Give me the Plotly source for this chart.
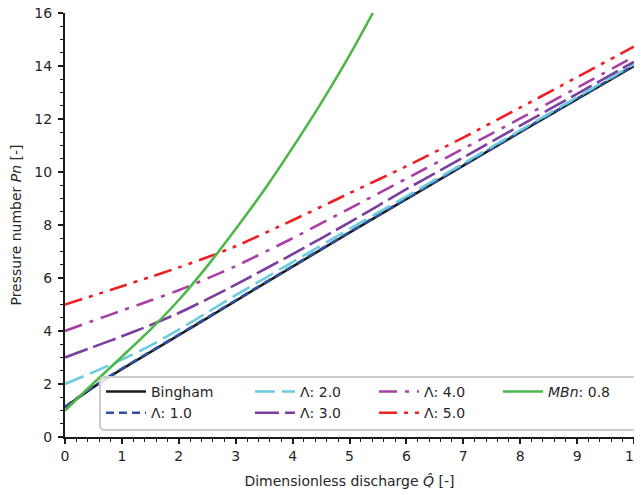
import plotly.graph_objects as go

# ---- data ----
q = [0, 0.5, 1, 1.5, 2, 2.5, 3, 4, 5, 6, 7, 8, 9, 10]
pn_bingham = [1.12, 1.88, 2.56, 3.2, 3.84, 4.49, 5.14, 6.43, 7.71, 8.98, 10.24, 11.5, 12.75, 14.0]
pn_lam1 = [1.14, 1.9, 2.58, 3.22, 3.86, 4.51, 5.16, 6.45, 7.73, 9.0, 10.26, 11.52, 12.77, 14.02]
pn_lam2 = [2.0, 2.45, 2.92, 3.45, 4.05, 4.7, 5.35, 6.6, 7.85, 9.08, 10.32, 11.57, 12.82, 14.07]
pn_lam3 = [3.0, 3.4, 3.8, 4.22, 4.68, 5.2, 5.75, 6.9, 8.1, 9.35, 10.55, 11.75, 12.95, 14.16]
pn_lam4 = [4.0, 4.39, 4.77, 5.15, 5.54, 5.98, 6.45, 7.5, 8.62, 9.75, 10.88, 12.02, 13.18, 14.35]
pn_lam5 = [5.0, 5.34, 5.69, 6.04, 6.4, 6.78, 7.2, 8.18, 9.2, 10.22, 11.3, 12.43, 13.58, 14.73]

q_mbn = [0, 0.5, 1, 1.5, 2, 2.5, 3, 3.5, 4, 4.5, 5, 5.41]
pn_mbn = [1.0, 2.03, 3.03, 4.05, 5.17, 6.45, 7.85, 9.32, 10.92, 12.6, 14.4, 16.0]

x_ticks = [0, 1, 2, 3, 4, 5, 6, 7, 8, 9, 10]
y_ticks = [0, 2, 4, 6, 8, 10, 12, 14, 16]

FONT = "DejaVu Sans, Arial, sans-serif"
TXT = "#262626"

# name, x, y, colour, dash, legend column
series = [
    ("Bingham", q, pn_bingham, "#1c1c1c", "solid", "legend"),
    ("Λ: 1.0", q, pn_lam1, "#2f4f9f", "8px,5px", "legend"),
    ("Λ: 2.0", q, pn_lam2, "#6cccdf", "20px,7px", "legend2"),
    ("Λ: 3.0", q, pn_lam3, "#7a3f9e", "24px,6px", "legend2"),
    ("Λ: 4.0", q, pn_lam4, "#a83fa6", "18px,8px,4px,8px", "legend3"),
    ("Λ: 5.0", q, pn_lam5, "#ee2024", "18px,7px,4px,7px,4px,7px", "legend3"),
    ("<i>MBn</i>: 0.8", q_mbn, pn_mbn, "#4db848", "solid", "legend4"),
]

fig = go.Figure()
for name, xs, ys, col, dash, leg in series:
    fig.add_trace(go.Scatter(
        x=xs, y=ys, mode="lines", name=name,
        line=dict(color=col, width=2.6, dash=dash, shape="spline", smoothing=0.8),
        legend=leg, legendgroup=name,
    ))

axis_common = dict(
    showgrid=False, zeroline=False, showline=True, linecolor="#1c1c1c", linewidth=2,
    ticks="outside", ticklen=5, tickwidth=1.5, tickcolor="#1c1c1c",
    tickfont=dict(family=FONT, size=14, color=TXT), mirror=False, automargin=False,
    ticklabeloverflow="allow",
)

def leg(xp):
    return dict(
        orientation="v", x=xp, y=0.144, xanchor="left", yanchor="top",
        bgcolor="rgba(0,0,0,0)", borderwidth=0,
        font=dict(family=FONT, size=14, color=TXT),
        itemwidth=40, traceorder="normal", tracegroupgap=3,
    )

# rounded legend frame (paper coordinates)
x0, x1, y0, y1 = 0.0615, 1.0105, 0.0165, 0.1415
rx, ry = 0.008, 0.011
frame = (f"M{x0+rx},{y0} L{x1-rx},{y0} Q{x1},{y0} {x1},{y0+ry} L{x1},{y1-ry} "
         f"Q{x1},{y1} {x1-rx},{y1} L{x0+rx},{y1} Q{x0},{y1} {x0},{y1-ry} "
         f"L{x0},{y0+ry} Q{x0},{y0} {x0+rx},{y0} Z")

fig.update_layout(
    width=634, height=487,
    margin=dict(l=57, r=8, t=5, b=58),
    paper_bgcolor="white", plot_bgcolor="white",
    font=dict(family=FONT, size=14, color=TXT),
    xaxis=dict(range=[0, 10], tickvals=x_ticks,
               minor=dict(dtick=0.2, ticks="outside", ticklen=3, tickwidth=1.2, tickcolor="#1c1c1c"),
               title=dict(text="Dimensionless discharge <i>Q̂</i> [-]", font=dict(family=FONT, size=14, color=TXT), standoff=13),
               **axis_common),
    yaxis=dict(range=[0, 16], tickvals=y_ticks, ticklabelstandoff=3,
               minor=dict(dtick=0.5, ticks="outside", ticklen=3, tickwidth=1.2, tickcolor="#1c1c1c"),
               title=dict(text="Pressure number <i>Pn</i> [-]", font=dict(family=FONT, size=14, color=TXT), standoff=9),
               **axis_common),
    shapes=[dict(type="path", xref="paper", yref="paper", path=frame,
                 fillcolor="rgba(255,255,255,0.85)", line=dict(color="#cccccc", width=2),
                 layer="above")],
    legend=leg(0.0633),
    legend2=leg(0.3251),
    legend3=leg(0.5431),
    legend4=leg(0.761),
    showlegend=True,
)

fig.write_html("out.html")
